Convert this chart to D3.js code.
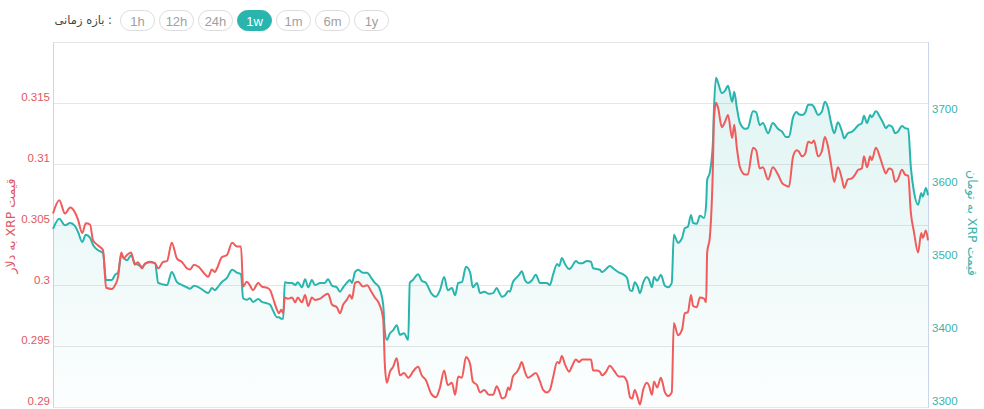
<!DOCTYPE html>
<html><head><meta charset="utf-8">
<script src="https://cdn.jsdelivr.net/npm/d3@7"></script>
<style>
html,body{margin:0;padding:0;background:#fff;}
svg{display:block;}
</style></head>
<body><svg id="c" width="984" height="409"></svg>
<script>
// hours since start of the 1-week window
const hours = [0,1.2,2.3,3.3,4.2,4.8,5.6,6.3,7.1,7.7,
8.6,9.6,10.2,11.3,11.9,12.5,13.1,13.6,14.2,15.0,
15.7,16.3,17.1,17.7,18.6,19.6,20.2,21.1,21.9,22.8,
23.8,24.8,25.7,26.3,27.1,28.0,29.2,29.8,30.5,31.1,
31.5,32.4,33.4,34.4,35.3,36.1,36.5,37.2,37.8,38.4,
39.4,40.1,41.1,41.7,42.2,43.0,43.4,43.8,44.2,44.5,
45.1,45.9,46.5,47.0,47.8,48.4,49.0,49.7,50.3,51.3,
52.2,52.8,53.6,54.5,55.1,55.7,56.4,57.0,57.4,58.0,
58.6,59.5,60.3,61.1,61.8,62.6,63.4,63.7,64.1,64.7,
65.3,66.0,66.6,67.4,68.2,68.5,69.1,70.1,70.8,71.6,
72.6,73.5,74.3,75.1,75.8,76.6,77.2,77.8,78.5,79.3,
80.1,80.6,81.4,82.0,82.8,83.7,84.5,85.2,85.6,86.2,
86.8,87.4,87.7,88.3,89.1,89.5,90.0,90.6,91.2,92.0,
92.7,93.5,94.1,94.8,95.4,96.0,96.8,97.2,97.7,98.3,
99.1,99.6,100.4,101.0,101.6,102.5,103.3,103.7,104.4,105.0,
105.4,106.2,106.9,107.7,108.7,109.4,110.2,110.8,111.2,111.7,
112.3,112.7,113.3,114.0,114.4,115.0,115.4,116.0,116.7,117.5,
118.1,118.8,119.2,120.0,120.8,121.3,121.9,122.5,122.9,123.6,
124.2,125.0,125.4,125.6,126.1,126.7,126.9,127.3,127.7,128.4,
129.0,129.6,130.4,130.8,131.3,131.9,132.9,133.4,134.4,135.0,
135.7,136.3,137.3,138.2,139.2,140.0,140.7,141.3,142.1,142.8,
143.2,143.8,144.4,145.0,145.7,146.1,146.9,147.6,148.2,148.8,
149.4,150.0,150.7,151.5,151.9,152.6,153.4,154.0,154.6,155.3,
155.7,156.3,156.9,157.2,158.0,158.8,159.4,159.9,160.5,161.1,
161.7,162.2,163.0,163.6,164.2,164.7,165.3,166.1,166.7,167.0,
167.6,168.0];

// XRP price in USD
const usd = [0.3059,0.3070,0.3059,0.3064,0.3060,0.3054,0.3043,0.3051,0.3050,0.3037,
0.3033,0.3029,0.2998,0.2997,0.3000,0.3007,0.3027,0.3022,0.3025,0.3027,
0.3017,0.3019,0.3014,0.3018,0.3019,0.3018,0.3014,0.3019,0.3020,0.3035,
0.3022,0.3019,0.3014,0.3013,0.3017,0.3015,0.3009,0.3007,0.3013,0.3011,
0.3014,0.3023,0.3025,0.3035,0.3032,0.3032,0.2999,0.3003,0.3000,0.2996,
0.3002,0.2999,0.2998,0.2996,0.2990,0.2980,0.2977,0.2980,0.2977,0.2990,
0.2989,0.2990,0.2986,0.2990,0.2986,0.2992,0.2983,0.2990,0.2988,0.2989,
0.2992,0.2993,0.2984,0.2982,0.2977,0.2984,0.2988,0.2992,0.2989,0.3002,
0.3003,0.2999,0.3000,0.2995,0.2990,0.2985,0.2972,0.2936,0.2920,0.2929,
0.2933,0.2940,0.2926,0.2928,0.2924,0.2925,0.2929,0.2933,0.2926,0.2922,
0.2911,0.2908,0.2916,0.2930,0.2918,0.2920,0.2910,0.2925,0.2924,0.2941,
0.2935,0.2921,0.2918,0.2912,0.2914,0.2910,0.2910,0.2917,0.2914,0.2907,
0.2908,0.2916,0.2914,0.2925,0.2929,0.2932,0.2937,0.2929,0.2924,0.2926,
0.2928,0.2921,0.2914,0.2912,0.2914,0.2924,0.2937,0.2936,0.2942,0.2935,
0.2929,0.2933,0.2939,0.2937,0.2939,0.2939,0.2939,0.2930,0.2930,0.2929,
0.2926,0.2929,0.2934,0.2930,0.2925,0.2925,0.2921,0.2908,0.2907,0.2914,
0.2907,0.2902,0.2914,0.2920,0.2918,0.2910,0.2921,0.2916,0.2924,0.2912,
0.2909,0.2912,0.2969,0.2959,0.2964,0.2977,0.2978,0.2992,0.2983,0.2982,
0.2990,0.2989,0.2986,0.3027,0.3039,0.3097,0.3136,0.3150,0.3146,0.3130,
0.3134,0.3140,0.3121,0.3132,0.3113,0.3097,0.3091,0.3091,0.3113,0.3111,
0.3096,0.3097,0.3087,0.3097,0.3091,0.3084,0.3082,0.3081,0.3106,0.3111,
0.3110,0.3106,0.3108,0.3118,0.3117,0.3119,0.3106,0.3110,0.3122,0.3114,
0.3099,0.3085,0.3097,0.3087,0.3080,0.3087,0.3088,0.3091,0.3095,0.3096,
0.3106,0.3097,0.3106,0.3103,0.3113,0.3105,0.3097,0.3092,0.3096,0.3095,
0.3085,0.3087,0.3095,0.3091,0.3090,0.3060,0.3044,0.3027,0.3043,0.3039,
0.3045,0.3037];

// XRP price in Toman
const toman = [3544,3558,3549,3552,3548,3540,3526,3536,3532,3522,
3515,3511,3474,3474,3481,3484,3508,3504,3501,3508,
3497,3495,3492,3496,3499,3497,3470,3468,3467,3485,
3471,3467,3464,3462,3466,3464,3458,3456,3463,3460,
3463,3471,3477,3488,3484,3482,3449,3447,3449,3444,
3448,3444,3442,3440,3433,3423,3423,3421,3421,3471,
3470,3470,3467,3471,3464,3475,3464,3474,3467,3470,
3470,3475,3466,3464,3458,3464,3470,3474,3470,3485,
3488,3484,3484,3477,3470,3464,3440,3405,3392,3401,
3405,3412,3399,3401,3392,3470,3474,3482,3473,3470,
3456,3451,3460,3478,3460,3463,3453,3470,3471,3492,
3484,3464,3470,3456,3458,3455,3456,3463,3458,3451,
3453,3459,3458,3471,3478,3481,3486,3474,3470,3474,
3481,3470,3470,3470,3467,3481,3496,3493,3504,3496,
3489,3492,3500,3497,3497,3500,3499,3490,3489,3488,
3485,3489,3493,3489,3484,3482,3477,3460,3459,3471,
3464,3456,3470,3478,3475,3464,3478,3473,3481,3466,
3464,3470,3536,3525,3532,3545,3547,3563,3552,3551,
3562,3559,3577,3611,3621,3662,3707,3751,3744,3730,
3733,3740,3718,3732,3710,3689,3681,3682,3705,3704,
3686,3689,3675,3689,3681,3677,3670,3670,3697,3704,
3701,3700,3703,3714,3714,3711,3700,3704,3718,3710,
3689,3675,3690,3677,3668,3675,3677,3681,3686,3689,
3699,3689,3700,3697,3705,3697,3689,3682,3686,3684,
3675,3677,3685,3682,3681,3629,3595,3577,3593,3588,
3600,3590];

const usdTicks = [0.29, 0.295, 0.3, 0.305, 0.31, 0.315];
const usdTickLabels = ["0.29", "0.295", "0.3", "0.305", "0.31", "0.315"];
const tomanTicks = [3300, 3400, 3500, 3600, 3700];
const tomanTickLabels = ["3300", "3400", "3500", "3600", "3700"];
const ranges = ["1h", "12h", "24h", "1w", "1m", "6m", "1y"];
const activeRange = "1w";
const rangeLabel = "بازه زمانی :";
const usdTitle = "قیمت XRP به دلار";
const tomanTitle = "قیمت XRP به تومان";

const RED = "#f05b5b", TEAL = "#29b5ad";
const plot = {left: 53, right: 928, top: 42, bottom: 407};

const svg = d3.select("#c");
const x = d3.scaleLinear().domain([0, 168]).range([plot.left, plot.right]);
const yL = d3.scaleLinear().domain([0.29, 0.32]).range([plot.bottom, plot.top]);
const yR = d3.scaleLinear().domain([3300, 3800]).range([plot.bottom, plot.top]);

// gradient
const defs = svg.append("defs");
const grad = defs.append("linearGradient").attr("id", "g").attr("gradientUnits", "userSpaceOnUse")
  .attr("x1", 0).attr("x2", 0).attr("y1", plot.top + 30).attr("y2", plot.bottom);
grad.append("stop").attr("offset", 0).attr("stop-color", TEAL).attr("stop-opacity", 0.15);
grad.append("stop").attr("offset", 1).attr("stop-color", TEAL).attr("stop-opacity", 0.015);

// gridlines
svg.append("g").selectAll("line").data(usdTicks.concat([0.32])).join("line")
  .attr("x1", plot.left).attr("x2", plot.right)
  .attr("y1", d => Math.round(yL(d)) + 0.5).attr("y2", d => Math.round(yL(d)) + 0.5)
  .attr("stroke", "#e6e6e6").attr("stroke-width", 1);

// axis lines
svg.append("line").attr("x1", plot.left + 0.5).attr("x2", plot.left + 0.5)
  .attr("y1", plot.top).attr("y2", plot.bottom + 1).attr("stroke", "#ccd6eb");
svg.append("line").attr("x1", plot.right + 0.5).attr("x2", plot.right + 0.5)
  .attr("y1", plot.top).attr("y2", plot.bottom + 1).attr("stroke", "#ccd6eb");

const pts = hours.map((h, i) => ({h, u: usd[i], t: toman[i]}));

// area under toman line
svg.append("path").datum(pts)
  .attr("d", d3.area().x(d => x(d.h)).y0(plot.bottom).y1(d => yR(d.t)).curve(d3.curveMonotoneX))
  .attr("fill", "url(#g)");

svg.append("path").datum(pts)
  .attr("d", d3.line().x(d => x(d.h)).y(d => yR(d.t)).curve(d3.curveMonotoneX))
  .attr("fill", "none").attr("stroke", TEAL).attr("stroke-width", 2).attr("stroke-linejoin", "round");

svg.append("path").datum(pts)
  .attr("d", d3.line().x(d => x(d.h)).y(d => yL(d.u)).curve(d3.curveMonotoneX))
  .attr("fill", "none").attr("stroke", RED).attr("stroke-width", 2).attr("stroke-linejoin", "round");

// axes labels
const axL = d3.axisLeft(yL).tickValues(usdTicks).tickSize(0).tickPadding(3)
  .tickFormat((d, i) => usdTickLabels[i]);
const gL = svg.append("g").attr("transform", `translate(${plot.left},0)`).call(axL);
gL.select(".domain").remove();
gL.selectAll("text").attr("fill", "#e0585d").attr("font-family", "Liberation Sans, Arial, sans-serif")
  .attr("font-size", 11.5).attr("dy", "-0.2em");

const axR = d3.axisRight(yR).tickValues(tomanTicks).tickSize(0).tickPadding(4)
  .tickFormat((d, i) => tomanTickLabels[i]);
const gR = svg.append("g").attr("transform", `translate(${plot.right},0)`).call(axR);
gR.select(".domain").remove();
gR.selectAll("text").attr("fill", "#3ab3ac").attr("font-family", "Liberation Sans, Arial, sans-serif")
  .attr("font-size", 11.5).attr("dy", "-0.2em");

// axis titles
svg.append("text").attr("transform", "translate(11,226) rotate(-90)")
  .attr("text-anchor", "middle").attr("direction", "rtl").attr("dominant-baseline", "middle")
  .attr("fill", "#e0585d").attr("font-family", "DejaVu Sans, sans-serif").attr("font-size", 12.5)
  .text(usdTitle);
svg.append("text").attr("transform", "translate(971,223) rotate(90)")
  .attr("text-anchor", "middle").attr("direction", "rtl").attr("dominant-baseline", "middle")
  .attr("fill", "#3ab3ac").attr("font-family", "DejaVu Sans, sans-serif").attr("font-size", 12.5)
  .text(tomanTitle);

// range selector
svg.append("text").attr("x", 112).attr("y", 24).attr("text-anchor", "end")
  .attr("fill", "#444").attr("font-family", "DejaVu Sans, sans-serif").attr("font-size", 11.5)
  .text(rangeLabel);
const btn = svg.append("g").selectAll("g").data(ranges).join("g")
  .attr("transform", (d, i) => `translate(${120.5 + i * 39},10.5)`);
btn.append("rect").attr("width", 34).attr("height", 20).attr("rx", 10)
  .attr("fill", d => d === activeRange ? TEAL : "#fff")
  .attr("stroke", d => d === activeRange ? TEAL : "#dcdcdc");
btn.append("text").attr("x", 17).attr("y", 15).attr("text-anchor", "middle")
  .attr("font-family", "Liberation Sans, Arial, sans-serif").attr("font-size", 13)
  .attr("fill", d => d === activeRange ? "#fff" : "#a0a0a0")
  .text(d => d);
</script>
</body></html>
